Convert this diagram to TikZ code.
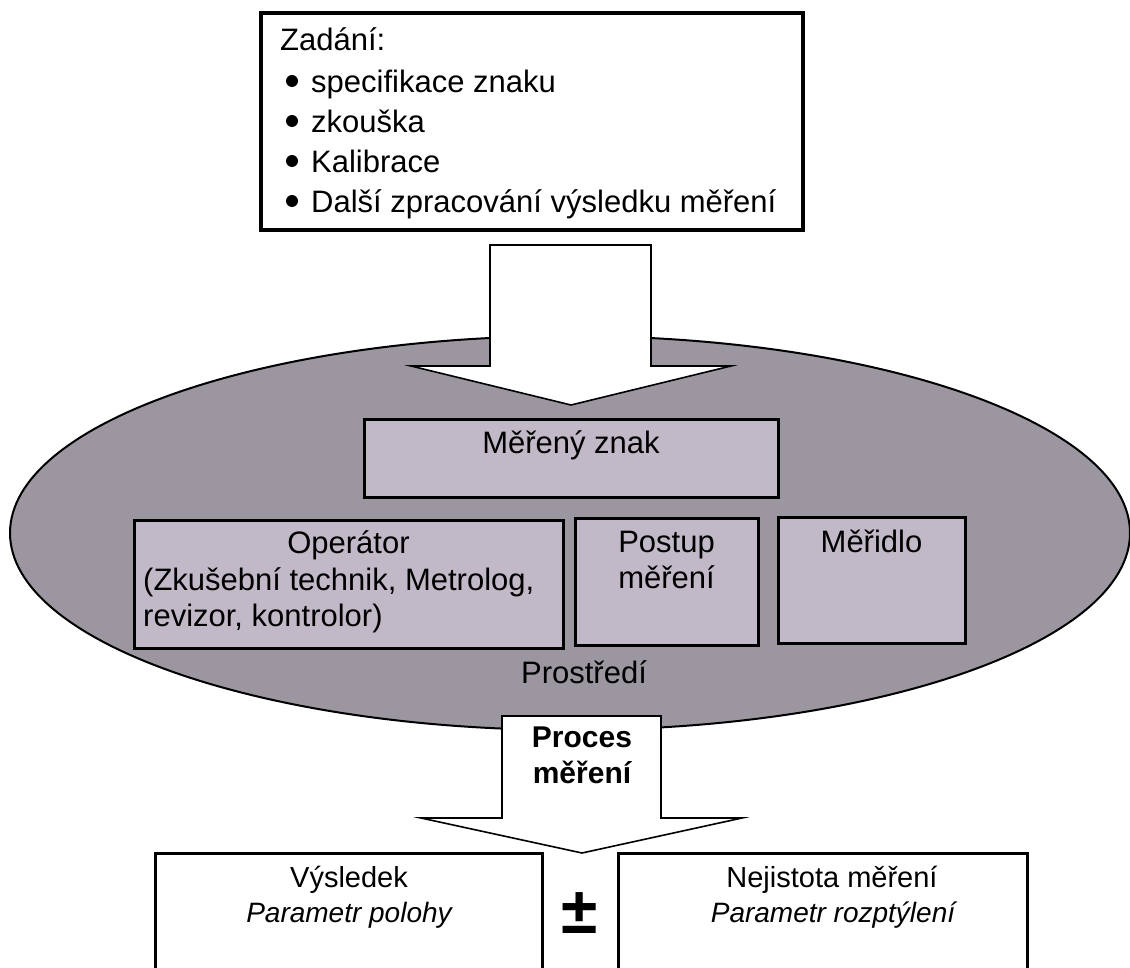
\documentclass[tikz,border=0pt]{standalone}
\usepackage{fontspec}
\setmainfont{Liberation Sans}
\usetikzlibrary{shapes.geometric}
\definecolor{ellgray}{RGB}{156,150,160}
\definecolor{boxgray}{RGB}{194,185,200}
\begin{document}
\begin{tikzpicture}[x=1pt,y=-1pt,
  box/.style={draw, line width=3pt, inner sep=0pt},
  innerbox/.style={box, fill=boxgray},
  blockarrow/.style={draw, fill=white, line width=1.6pt, line join=miter},
  txt/.style={inner sep=0pt, anchor=base, font=\fontsize{29}{35}\selectfont},
  toptxt/.style={inner sep=0pt, anchor=base west, font=\fontsize{31}{37}\selectfont},
  intxt/.style={inner sep=0pt, anchor=base, font=\fontsize{31}{37}\selectfont},
  boldtxt/.style={inner sep=0pt, anchor=base, font=\fontsize{30}{36}\selectfont\bfseries},
  bulletdot/.style={fill=black}]
\useasboundingbox (0,0) rectangle (1130,968);
\clip (0,0) rectangle (1130,968);
\fill[white] (0,0) rectangle (1130,968);

% top box
\node[box, line width=3.5pt, minimum width=542pt, minimum height=217pt] (zadani) at (532,121.5) {};
\node[toptxt] (t0) at (280,51) {Zadání:};
\node[toptxt] (t1) at (311,93) {specifikace znaku};
\node[toptxt] (t2) at (311,133) {zkouška};
\node[toptxt] (t3) at (311,173) {Kalibrace};
\node[toptxt] (t4) at (311,213) {Další zpracování výsledku měření};
\foreach \yy in {81,121,161,201} \fill[bulletdot] (292,\yy) circle (6pt);

% environment ellipse
\node[ellipse, draw, line width=2pt, fill=ellgray, minimum width=1120pt, minimum height=394pt, inner sep=0pt] (env) at (570,533) {};

% top block arrow
\draw[blockarrow] (490,245) -- (651,245) -- (651,366) -- (731,366) -- (571,405) -- (411,366) -- (490,366) -- cycle;

% inner boxes
\node[innerbox, minimum width=414pt, minimum height=78pt] (znak) at (571,458) {};
\node[intxt] (tznak) at (571,453) {Měřený znak};
\node[innerbox, minimum width=429pt, minimum height=128pt] (oper) at (348.5,584) {};
\node[intxt] (toper) at (348.5,553) {Operátor};
\node[intxt, anchor=base west] (toper2) at (143,590) {(Zkušební technik, Metrolog,};
\node[intxt, anchor=base west] (toper3) at (143,626) {revizor, kontrolor)};
\node[innerbox, minimum width=183pt, minimum height=127pt] (postup) at (666.5,581.5) {};
\node[intxt] (tpostup) at (666.5,552) {Postup};
\node[intxt] (tpostup2) at (666.5,588) {měření};
\node[innerbox, minimum width=187pt, minimum height=126pt] (meridlo) at (871.5,580) {};
\node[intxt] (tmeridlo) at (871.5,552) {Měřidlo};
\node[intxt] (tprostredi) at (584,683) {Prostředí};

% bottom block arrow
\draw[blockarrow] (502,716) -- (661,716) -- (661,818) -- (742,818) -- (582,853) -- (421,818) -- (502,818) -- cycle;
\node[boldtxt] (proc1) at (582,747) {Proces};
\node[boldtxt] (proc2) at (582,783) {měření};

% result boxes
\draw[line width=3pt] (155,1000) -- (155,853) -- (542,853) -- (542,1000);
\coordinate (vysl) at (348.5,853);
\node[txt] (tvysl) at (349,887) {Výsledek};
\node[txt, font=\fontsize{28}{34}\selectfont\itshape] (tvysl2) at (349,922) {Parametr polohy};
\draw[line width=3pt] (618,1000) -- (618,853) -- (1027,853) -- (1027,1000);
\coordinate (nej) at (822.5,853);
\node[txt] (tnej) at (832,887) {Nejistota měření};
\node[txt, font=\fontsize{28}{34}\selectfont\itshape] (tnej2) at (833,922) {Parametr rozptýlení};
\node[inner sep=0pt, font=\fontsize{66}{70}\selectfont\bfseries] (pm) at (580,913) {±};
\end{tikzpicture}
\end{document}
